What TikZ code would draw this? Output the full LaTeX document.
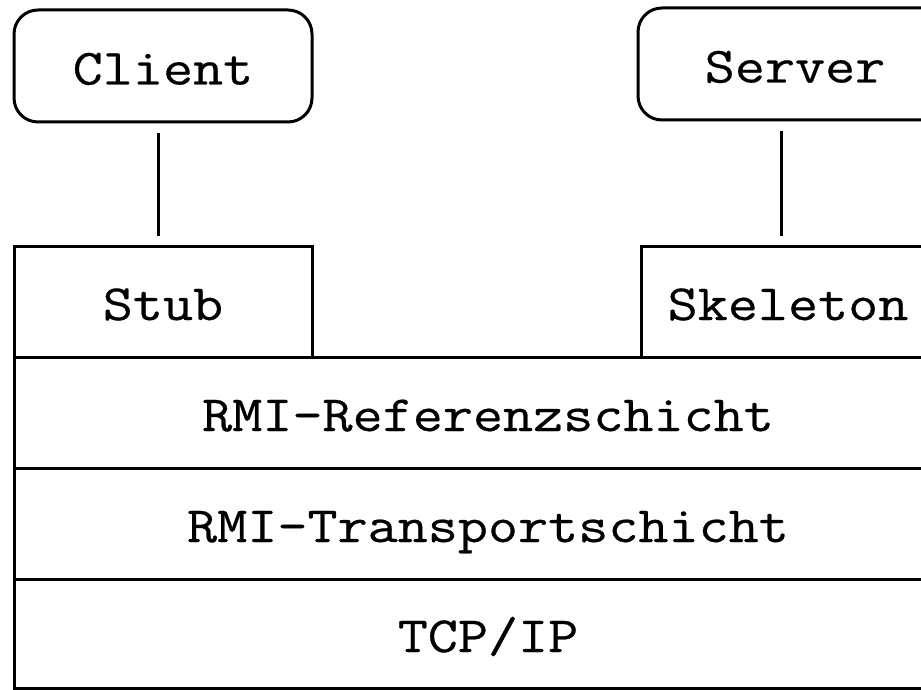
\documentclass[tikz,border=0pt]{standalone}
\usepackage{fontspec}
\newfontfamily\courlike{Latin Modern Mono}[FakeStretch=1.15, FakeBold=0.5]
\begin{document}
\begin{tikzpicture}[x=0.5pt,y=-0.5pt,
  lbl/.style={font=\courlike\fontsize{25.4}{30}\selectfont, text height=19.5pt, text depth=1pt},
  box/.style={lbl, draw, line width=1.5pt, inner sep=0pt},
  endbox/.style={box, rounded corners=12pt},
  link/.style={line width=1.5pt, shorten <=5pt, shorten >=4.5pt}]
\useasboundingbox (0,0) rectangle (921,690);
\clip (0,0) rectangle (921,690);
\fill[white] (0,0) rectangle (921,690);
% layers
\node[box, minimum width=474pt, minimum height=55.5pt] (ref) at (488,412.5) {RMI-Referenzschicht};
\node[box, minimum width=474pt, minimum height=55.5pt] (trans) at (488,523.5) {RMI-Transportschicht};
\node[box, minimum width=474pt, minimum height=54.5pt] (tcp) at (488,633.5) {TCP/IP};
% stub / skeleton
\node[box, minimum width=149pt, minimum height=55.5pt] (stub) at (163,301.5) {Stub};
\node[box, minimum width=147pt, minimum height=55.5pt] (skel) at (788,301.5) {Skeleton};
% client / server
\node[endbox, minimum width=149pt, minimum height=56pt] (client) at (163,66) {Client};
\node[endbox, minimum width=157pt, minimum height=56pt] (server) at (795,64) {Server};
% connectors
\draw[link] (client.south -| 158,0) -- (stub.north -| 158,0);
\draw[link] (server.south -| 781,0) -- (skel.north -| 781,0);
\end{tikzpicture}
\end{document}
